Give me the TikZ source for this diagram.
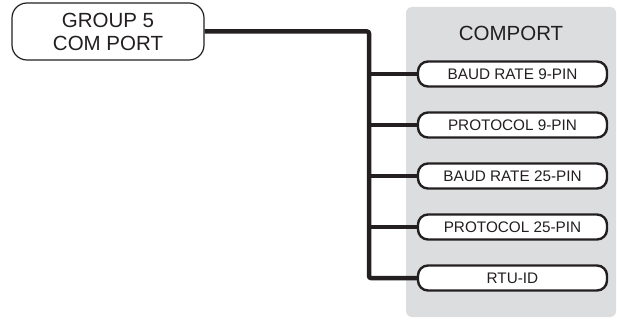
\documentclass[tikz,border=0pt]{standalone}
\usepackage{fontspec}
\setmainfont{Liberation Sans}
\definecolor{panelgray}{HTML}{DCDDDF}
\definecolor{ink}{HTML}{231F20}
\begin{document}
\begin{tikzpicture}[x=1pt,y=-1pt,
  groupbox/.style={draw=ink,line width=1.2pt,rounded corners=15pt,fill=white,
    minimum width=192pt,minimum height=57pt,inner sep=0pt,align=center,
    font=\fontsize{20.5}{23}\selectfont,text=ink},
  itembox/.style={draw=ink,line width=2.4pt,rounded corners=10pt,fill=white,
    minimum width=189pt,minimum height=25pt,inner sep=0pt,
    font=\fontsize{15.3}{17}\selectfont,text=ink},
  bus/.style={draw=ink,line width=4.5pt,rounded corners=2pt},
  branch/.style={draw=ink,line width=4pt}]
\useasboundingbox (0,0) rectangle (617,320);
\fill[panelgray,rounded corners=6pt] (406,7) rectangle (616,317);
\node[text=ink,font=\fontsize{20.5}{23}\selectfont] (title) at (511,33) {COMPORT};
\node[groupbox] (g) at (108,31.5) {GROUP 5\\COM PORT};
\node[itembox] (c1) at (512.5,74) {BAUD RATE 9-PIN};
\node[itembox] (c2) at (512.5,125) {PROTOCOL 9-PIN};
\node[itembox] (c3) at (512.5,176) {BAUD RATE 25-PIN};
\node[itembox] (c4) at (512.5,227) {PROTOCOL 25-PIN};
\node[itembox] (c5) at (512.5,278) {RTU-ID};
\coordinate (j) at (369,278);
\draw[bus] (g.east) -| (j) -- (c5.west);
\foreach \c in {c1,c2,c3,c4}{
  \draw[branch] (\c.west -| j) -- (\c.west);
}
\end{tikzpicture}
\end{document}
